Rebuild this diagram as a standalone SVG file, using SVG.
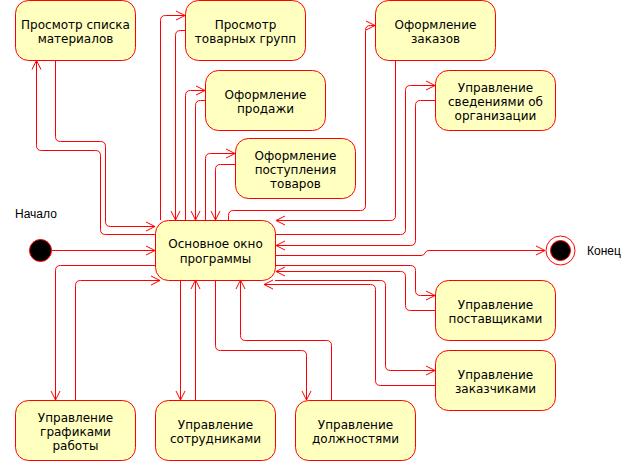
<svg xmlns="http://www.w3.org/2000/svg" width="635" height="461" viewBox="0 0 635 461">
<style>
.node rect{fill:#FFFFC0;stroke:#FF0000;stroke-width:1}
.node text{font-family:"DejaVu Sans",Verdana,sans-serif;font-size:12px;fill:#000;text-anchor:middle}
.lbl{font-family:"Liberation Sans",Arial,sans-serif;font-size:12px;fill:#000}
#connectors path{fill:none;stroke:#FF0000;stroke-width:1;marker-end:url(#arr)}
</style>
<defs>
<marker id="arr" markerUnits="userSpaceOnUse" markerWidth="11" markerHeight="11" refX="9" refY="4.5" orient="auto" overflow="visible">
<path d="M0,0 L9,4.5 L0,9" fill="none" stroke="#FF0000" stroke-width="1"/>
</marker>
</defs>
<rect width="635" height="461" fill="#FFFFFF"/>

<g id="connectors">
<path d="M52,250.5 H155"/>
<path d="M155,234.5 H105.5 Q100.5,234.5 100.5,229.5 V155.5 Q100.5,150.5 95.5,150.5 H41.5 Q36.5,150.5 36.5,145.5 V60.5"/>
<path d="M55.5,60.5 V136.5 Q55.5,141.5 60.5,141.5 H100.5 Q105.5,141.5 105.5,146.5 V221.5 Q105.5,226.5 110.5,226.5 H155"/>
<path d="M160.5,220 V20.5 Q160.5,15.5 165.5,15.5 H185"/>
<path d="M185,30.5 H180.5 Q175.5,30.5 175.5,35.5 V220"/>
<path d="M185.5,220 V95.5 Q185.5,90.5 190.5,90.5 H205"/>
<path d="M205,100.5 H200.5 Q195.5,100.5 195.5,105.5 V220"/>
<path d="M205.5,220 V158.5 Q205.5,153.5 210.5,153.5 H235"/>
<path d="M235,164.5 H220.5 Q215.5,164.5 215.5,169.5 V220"/>
<path d="M228.5,220 V215.5 Q228.5,210.5 233.5,210.5 H360.5 Q365.5,210.5 365.5,205.5 V30.5 Q365.5,25.5 370.5,25.5 H375"/>
<path d="M395.5,60 V215.5 Q395.5,220.5 390.5,220.5 H276"/>
<path d="M275,234.5 H400.5 Q405.5,234.5 405.5,229.5 V90.5 Q405.5,85.5 410.5,85.5 H435"/>
<path d="M435,100.5 H420.5 Q415.5,100.5 415.5,105.5 V240.5 Q415.5,245.5 410.5,245.5 H276"/>
<path d="M275,255.5 H421 Q424,255.5 425,253 Q426,250.5 429,250.5 H545"/>
<path d="M275,265.5 H410.5 Q415.5,265.5 415.5,270.5 V290.5 Q415.5,295.5 420.5,295.5 H435"/>
<path d="M435,310.5 H410.5 Q405.5,310.5 405.5,305.5 V276.5 Q405.5,271.5 400.5,271.5 H276"/>
<path d="M275,280.5 H380.5 Q385.5,280.5 385.5,285.5 V365.5 Q385.5,370.5 390.5,370.5 H435"/>
<path d="M435,385.5 H380.5 Q375.5,385.5 375.5,380.5 V289.5 Q375.5,284.5 370.5,284.5 H264"/>
<path d="M155,265.5 H60.5 Q55.5,265.5 55.5,270.5 V400"/>
<path d="M75.5,400 V285.5 Q75.5,280.5 80.5,280.5 H160"/>
<path d="M180.5,280 V400"/>
<path d="M195.5,400 V280"/>
<path d="M215.5,280 V345.5 Q215.5,350.5 220.5,350.5 H301.5 Q306.5,350.5 306.5,355.5 V400"/>
<path d="M331.5,400 V345.5 Q331.5,340.5 326.5,340.5 H245.5 Q240.5,340.5 240.5,335.5 V280"/>
</g>

<g id="start">
<circle cx="40.5" cy="250.5" r="11" fill="#000" stroke="#FF0000" stroke-width="1"/>
<text class="lbl" x="15" y="218">Начало</text>
</g>
<g id="end">
<circle cx="560.5" cy="250.5" r="14.5" fill="#FFFFFF" stroke="#FF0000" stroke-width="1"/>
<circle cx="560.5" cy="250.5" r="10" fill="#000" stroke="#FF0000" stroke-width="1"/>
<text class="lbl" x="587" y="255">Конец</text>
</g>

<g id="n-materials" class="node">
<rect x="15.5" y="0.5" width="120" height="60" rx="13"/>
<text x="75.5" y="28.5">Просмотр списка</text>
<text x="75.5" y="42.5">материалов</text>
</g>
<g id="n-groups" class="node">
<rect x="185.5" y="0.5" width="120" height="60" rx="13"/>
<text x="245.5" y="28.5">Просмотр</text>
<text x="245.5" y="42.5">товарных групп</text>
</g>
<g id="n-sale" class="node">
<rect x="205.5" y="70.5" width="120" height="60" rx="13"/>
<text x="265.5" y="98.5">Оформление</text>
<text x="265.5" y="112.5">продажи</text>
</g>
<g id="n-supply" class="node">
<rect x="235.5" y="138.5" width="120" height="60" rx="13"/>
<text x="295.5" y="159.5">Оформление</text>
<text x="295.5" y="173.5">поступления</text>
<text x="295.5" y="187.5">товаров</text>
</g>
<g id="n-orders" class="node">
<rect x="375.5" y="0.5" width="120" height="60" rx="13"/>
<text x="435.5" y="28.5">Оформление</text>
<text x="435.5" y="42.5">заказов</text>
</g>
<g id="n-org" class="node">
<rect x="435.5" y="70.5" width="120" height="60" rx="13"/>
<text x="495.5" y="91.5">Управление</text>
<text x="495.5" y="105.5">сведениями об</text>
<text x="495.5" y="119.5">организации</text>
</g>
<g id="n-main" class="node">
<rect x="155.5" y="220.5" width="120" height="60" rx="13"/>
<text x="215.5" y="248">Основное окно</text>
<text x="215.5" y="262.5">программы</text>
</g>
<g id="n-suppliers" class="node">
<rect x="435.5" y="280.5" width="120" height="60" rx="13"/>
<text x="495.5" y="308.5">Управление</text>
<text x="495.5" y="322.5">поставщиками</text>
</g>
<g id="n-customers" class="node">
<rect x="435.5" y="350.5" width="120" height="60" rx="13"/>
<text x="495.5" y="378.5">Управление</text>
<text x="495.5" y="392.5">заказчиками</text>
</g>
<g id="n-schedules" class="node">
<rect x="15.5" y="400.5" width="120" height="60" rx="13"/>
<text x="75.5" y="421.5">Управление</text>
<text x="75.5" y="435.5">графиками</text>
<text x="75.5" y="449.5">работы</text>
</g>
<g id="n-staff" class="node">
<rect x="155.5" y="400.5" width="120" height="60" rx="13"/>
<text x="215.5" y="428.5">Управление</text>
<text x="215.5" y="442.5">сотрудниками</text>
</g>
<g id="n-positions" class="node">
<rect x="295.5" y="400.5" width="120" height="60" rx="13"/>
<text x="355.5" y="428.5">Управление</text>
<text x="355.5" y="442.5">должностями</text>
</g>
</svg>
